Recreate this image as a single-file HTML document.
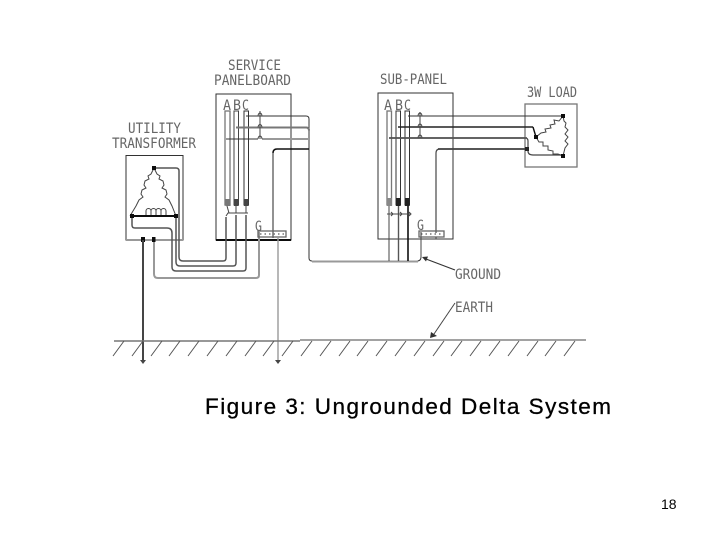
<!DOCTYPE html>
<html><head><meta charset="utf-8"><style>
html,body{margin:0;padding:0;background:#fff;width:720px;height:540px;overflow:hidden}
svg{display:block}
.l{fill:none;stroke:#333;stroke-width:1}
.m{fill:none;stroke:#555;stroke-width:1.5}
.h{fill:none;stroke:#111;stroke-width:2}
.g{fill:none;stroke:#999;stroke-width:2}
.c{fill:none;stroke:#444;stroke-width:1}
.s{font-family:"DejaVu Sans Mono","Liberation Mono",monospace;font-size:14.5px;fill:#666}
</style></head><body>
<svg width="720" height="540" viewBox="0 0 720 540" xmlns="http://www.w3.org/2000/svg">
<defs><filter id="b" x="-2%" y="-2%" width="104%" height="104%"><feGaussianBlur stdDeviation="0.3"/></filter></defs>
<g filter="url(#b)">
<!-- boxes -->
<rect x="126" y="155.500" width="57" height="84.500" class="l"/>
<path d="M126 240H183" class="g"/>
<rect x="216" y="94" width="75" height="146" class="l"/>
<path d="M216 240H291" class="h"/>
<rect x="378" y="93" width="75" height="146" class="l"/>
<rect x="525" y="104" width="52" height="63" fill="none" stroke="#777" stroke-width="1.3"/>

<!-- labels -->
<text class="s" x="228" y="70" textLength="53" lengthAdjust="spacingAndGlyphs">SERVICE</text>
<text class="s" x="214" y="85" textLength="77" lengthAdjust="spacingAndGlyphs">PANELBOARD</text>
<text class="s" x="128" y="133" textLength="53" lengthAdjust="spacingAndGlyphs">UTILITY</text>
<text class="s" x="112" y="148" textLength="84" lengthAdjust="spacingAndGlyphs">TRANSFORMER</text>
<text class="s" x="380" y="84" textLength="67" lengthAdjust="spacingAndGlyphs">SUB-PANEL</text>
<text class="s" x="527" y="97" textLength="50" lengthAdjust="spacingAndGlyphs">3W LOAD</text>
<text class="s" x="223" y="110" textLength="8" lengthAdjust="spacingAndGlyphs">A</text>
<text class="s" x="233" y="110" textLength="8" lengthAdjust="spacingAndGlyphs">B</text>
<text class="s" x="242" y="110" textLength="7" lengthAdjust="spacingAndGlyphs">C</text>
<text class="s" x="384" y="110" textLength="8" lengthAdjust="spacingAndGlyphs">A</text>
<text class="s" x="395" y="110" textLength="8" lengthAdjust="spacingAndGlyphs">B</text>
<text class="s" x="404" y="110" textLength="7" lengthAdjust="spacingAndGlyphs">C</text>
<text class="s" x="255" y="231" textLength="7" lengthAdjust="spacingAndGlyphs">G</text>
<text class="s" x="417" y="230" textLength="7" lengthAdjust="spacingAndGlyphs">G</text>
<text class="s" x="455" y="279" textLength="46" lengthAdjust="spacingAndGlyphs">GROUND</text>
<text class="s" x="455" y="312" textLength="38" lengthAdjust="spacingAndGlyphs">EARTH</text>

<!-- transformer delta -->
<g class="c">
<path d="M154 168l3 6 3 2-1 3 4 2 1 4-2 3 4 2 1 4-2 3 4 3 3 6 4 10"/>
<path d="M154 168l-3 6-3 2 1 3-4 2-1 4 2 3-4 2-1 4 2 3-4 3-3 6-6 10"/>
<path d="M146 216v-5a2.500 2.500 0 0 1 5 0v5M151 216v-5a2.500 2.500 0 0 1 5 0v5M156 216v-5a2.500 2.500 0 0 1 5 0v5M161 216v-5a2.500 2.500 0 0 1 5 0v5"/>
</g>
<path d="M132 216H176" class="h"/>
<path d="M154 168H176q3 0 3 3V257q0 4 4 4H223q3 0 3-3V217" class="m"/>
<path d="M176 216V262q0 4 4 4H233q3 0 3-3V215" class="m"/>
<path d="M132 216V225q0 3 3 3H167q5 0 5 5V267q0 4 4 4H243q3 0 3-3V215" class="m"/>
<path d="M154 240V274q0 4 4 4H256q3 0 3-3V232" class="g"/>
<rect x="152" y="237" width="3.500" height="5" fill="#111"/>
<rect x="141" y="237" width="4" height="5" fill="#111"/>
<rect x="152" y="166" width="4" height="4" fill="#111"/>
<rect x="130" y="214" width="4" height="4" fill="#111"/>
<rect x="174" y="214" width="4" height="4" fill="#111"/>

<!-- service panel bars -->
<rect x="225" y="111" width="5" height="94" fill="none" stroke="#777" stroke-width="1.3"/>
<rect x="234" y="111" width="4.500" height="94" fill="none" stroke="#444"/>
<rect x="244" y="111" width="4.500" height="94" fill="none" stroke="#333"/>
<rect x="225.500" y="199" width="5" height="7" fill="#777"/>
<rect x="234" y="199" width="4.500" height="7" fill="#444"/>
<rect x="244" y="199" width="4.500" height="7" fill="#444"/>
<path d="M227 206l2 7H231M236 206v7M246 206v7M226 216l2-3H248" class="c"/>

<!-- wires between panels -->
<path d="M246 116H306q3 0 3 3V258" class="l"/>
<path d="M236 127.500H306q3 0 3 3" fill="none" stroke="#777" stroke-width="2"/>
<path d="M226 139H258" class="l"/>
<path d="M262 139H309" class="g"/>
<path d="M258 139a2 3 0 0 1 4 0M258 127.500a2 3 0 0 1 4 0M258 116a2 3 0 0 1 4 0M260 111V139" class="c"/>
<path d="M273 238V153q0-4 4-4H309" fill="none" stroke="#111" stroke-width="1.500"/>
<path d="M273 238V153" fill="none" stroke="#999"/>
<path d="M309 150V258q0 3 3 3H417q4 0 4-4V232" class="l"/>
<path d="M312 261.500H418" class="g"/>

<!-- ground bar left -->
<rect x="258" y="231" width="28" height="6" fill="none" stroke="#666" stroke-width="1.3"/>
<path d="M260 234h24" stroke="#333" stroke-dasharray="1.500 3" fill="none"/>
<path d="M278 237V362" fill="none" stroke="#999" stroke-width="1.400"/>
<path d="M143 240V362" fill="none" stroke="#444" stroke-width="2"/>
<path d="M140 360h6l-3 4zM275 360h6l-3 4z" fill="#444"/>

<!-- sub-panel bars -->
<rect x="387" y="111" width="4.500" height="94" fill="none" stroke="#777" stroke-width="1.3"/>
<rect x="396" y="111" width="4.500" height="94" fill="none" stroke="#333"/>
<rect x="405" y="111" width="4.500" height="94" fill="none" stroke="#333"/>
<rect x="387" y="198" width="5" height="8" fill="#888"/>
<rect x="396" y="198" width="4.500" height="8" fill="#222"/>
<rect x="405" y="198" width="4.500" height="8" fill="#222"/>
<path d="M389 206V261" class="c"/>
<path d="M398.500 206V261" fill="none" stroke="#555" stroke-width="1.400"/>
<path d="M408 206V261" fill="none" stroke="#111" stroke-width="1.600"/>
<path d="M387 214H410M391 212l2 2-2 2M400 212l2 2-2 2M409 212l2 2-2 2" class="c"/>

<!-- sub-panel to load -->
<path d="M408 116H563" class="l"/>
<path d="M398 127H533" fill="none" stroke="#222" stroke-width="1.500"/>
<path d="M389 138H525q3 0 3 3V151q0 4 5 4H563" fill="none" stroke="#444" stroke-width="1.200"/>
<path d="M389 138H527" fill="none" stroke="#555" stroke-width="1.800"/>
<path d="M436 233V153q0-4 4-4H527" fill="none" stroke="#444" stroke-width="1.200"/>
<path d="M438 149H527" fill="none" stroke="#444" stroke-width="1.800"/>
<path d="M420 112V138M418 116a2 3 0 0 1 4 0M418 127a2 3 0 0 1 4 0M418 138a2 3 0 0 1 4 0" class="c"/>
<rect x="419" y="231" width="25" height="6" fill="none" stroke="#666" stroke-width="1.300"/>
<path d="M421 234h21" stroke="#333" stroke-dasharray="1.500 3" fill="none"/>
<path d="M436 237v2" class="c"/>
<path d="M421 237V258" class="c"/>

<!-- load delta -->
<g class="c">
<path d="M563 116l-4 5-5-1 1 4-5 1 1 3-6 1 1 3-5 1-5 4"/>
<path d="M563 116l1 5 2 2-1 4 3 3-3 4 3 3-3 4 3 3-3 4-2 8"/>
<path d="M536 137l3 5 4 0 0 4 5 0 0 4 5 1 0 3 5 0 5 2"/>
</g>
<path d="M533 127l3 10" fill="none" stroke="#111" stroke-width="1.400"/>
<rect x="561" y="114" width="4" height="4" fill="#111"/>
<rect x="561" y="154" width="4" height="4" fill="#111"/>
<rect x="534" y="135" width="4" height="4" fill="#111"/>
<rect x="525" y="147" width="4" height="4" fill="#222"/>

<!-- earth -->
<path d="M114 341H300" fill="none" stroke="#777" stroke-width="1.600"/>
<path d="M300 340H586" fill="none" stroke="#444"/>
<path fill="none" stroke="#555" d="M124 341l-11 15M143 341l-11 15M162 341l-11 15M180 341l-11 15M199 341l-11 15M218 341l-11 15M237 341l-11 15M256 341l-11 15M274 341l-11 15M293 341l-11 15M312 341l-11 15M331 341l-11 15M350 341l-11 15M368 341l-11 15M387 341l-11 15M406 341l-11 15M425 341l-11 15M444 341l-11 15M462 341l-11 15M481 341l-11 15M500 341l-11 15M519 341l-11 15M538 341l-11 15M556 341l-11 15M575 341l-11 15"/>

<!-- leaders -->
<path d="M455 270L426 259" fill="none" stroke="#333" stroke-width="1.200"/>
<path d="M422 257l6-0.500-2 5z" fill="#333"/>
<path d="M455 303L434 334" fill="none" stroke="#444"/>
<path d="M430 338l1-6 6 4z" fill="#333"/>
</g>

<!-- caption -->
<text x="205" y="414" textLength="406" lengthAdjust="spacing" style="font-family:'Liberation Sans',sans-serif;font-size:22.500px;fill:#000;stroke:#000;stroke-width:.3">Figure 3: Ungrounded Delta System</text>
<text x="661" y="509" style="font-family:'Liberation Sans',sans-serif;font-size:14px;fill:#000">18</text>
</svg>
</body></html>
